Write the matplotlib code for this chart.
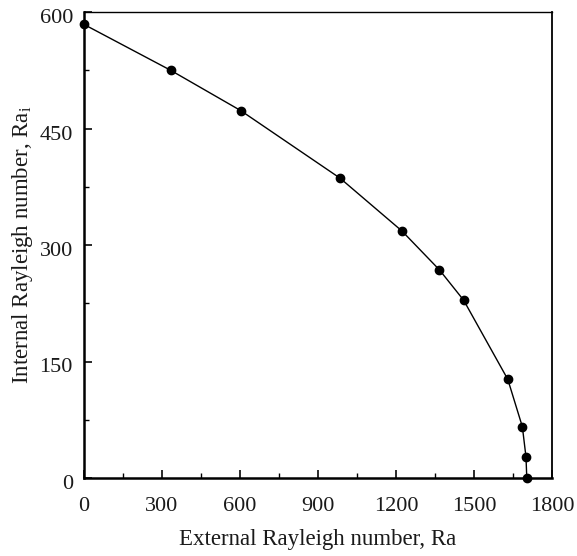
import matplotlib.pyplot as plt
import matplotlib.transforms as mtransforms
from matplotlib.ticker import MultipleLocator

# critical curve: external vs internal Rayleigh number
ra_ext = [0, 333, 603, 985, 1223, 1367, 1460, 1630, 1686, 1700, 1703]
ra_int = [584, 525, 473, 386, 318, 268, 229, 127, 66, 27, 0]

x_ticks = [0, 300, 600, 900, 1200, 1500, 1800]
y_ticks = [0, 150, 300, 450, 600]

plt.rcParams['font.family'] = ['Liberation Serif', 'DejaVu Serif']
plt.rcParams['mathtext.fontset'] = 'custom'
plt.rcParams['mathtext.rm'] = 'Liberation Serif'
plt.rcParams['mathtext.it'] = 'Liberation Serif:italic'

fig = plt.figure(figsize=(5.77, 5.56), dpi=100)
ax = fig.add_axes([84 / 577, 1 - 478 / 556, 468 / 577, 466 / 556])

ax.plot(ra_ext, ra_int, color='black', lw=1.0, marker='o', ms=6,
        markerfacecolor='black', markeredgecolor='black', clip_on=False, zorder=3)

ax.set_xlim(0, 1800)
ax.set_ylim(0, 600)
ax.set_xticks(x_ticks)
ax.set_yticks(y_ticks)
ax.xaxis.set_minor_locator(MultipleLocator(150))
ax.yaxis.set_minor_locator(MultipleLocator(75))
ax.tick_params(which='major', direction='in', length=6, width=1.3, labelsize=16, colors='#1a1a1a')
ax.tick_params(which='minor', direction='in', length=3.5, width=1.0)
ax.tick_params(axis='x', pad=14)
ax.tick_params(axis='y', pad=8)

# y tick labels sit slightly below their ticks
shift = mtransforms.ScaledTranslation(0, -4 / 100, fig.dpi_scale_trans)
for lbl in ax.get_yticklabels():
    lbl.set_transform(lbl.get_transform() + shift)

ax.spines['left'].set_linewidth(1.8)
ax.spines['bottom'].set_linewidth(1.8)
ax.spines['top'].set_linewidth(1.0)
ax.spines['right'].set_linewidth(1.3)

ax.set_xlabel('External Rayleigh number, Ra', fontsize=16.5, labelpad=9, color='#1a1a1a')
ax.set_ylabel('Internal Rayleigh number, Ra$_\\mathrm{i}$', fontsize=16.5, labelpad=3, color='#1a1a1a')

fig.savefig('out.png', dpi=100)
